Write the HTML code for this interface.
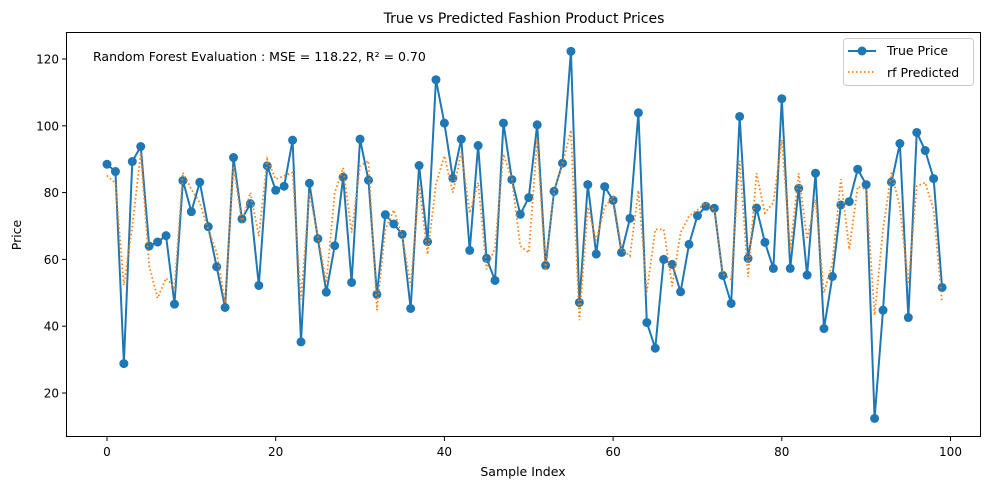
<!DOCTYPE html>
<html><head><meta charset="utf-8"><style>
body{margin:0;background:#fff;font-family:"Liberation Sans","DejaVu Sans",sans-serif;}
svg text{font-family:"DejaVu Sans","Liberation Sans",sans-serif;}
</style></head><body>
<svg id="chart" width="989" height="490" xmlns="http://www.w3.org/2000/svg">
<rect width="989" height="490" fill="#fff"/>
<text x="524" y="23" font-size="14" text-anchor="middle">True vs Predicted Fashion Product Prices</text>
<g id="grid"></g>
<g id="series"></g>
<rect x="66.5" y="32.5" width="914" height="404" fill="none" stroke="#000" stroke-width="1"/>
<text x="93" y="61" font-size="12.5">Random Forest Evaluation : MSE = 118.22, R² = 0.70</text>
<text x="523" y="476" font-size="12.5" text-anchor="middle">Sample Index</text>
<text transform="translate(21,235) rotate(-90)" font-size="12.5" text-anchor="middle">Price</text>
<g>
<rect x="843.5" y="38.5" width="130" height="47" rx="3" fill="#fff" stroke="#ccc"/>
<line x1="848" y1="51" x2="876" y2="51" stroke="#1f77b4" stroke-width="2"/>
<circle cx="862" cy="51" r="4.5" fill="#1f77b4"/>
<text x="887" y="55" font-size="12.5">True Price</text>
<line x1="848" y1="72" x2="876" y2="72" stroke="#ff7f0e" stroke-width="1.8" stroke-dasharray="1.5,2.5"/>
<text x="887" y="77" font-size="12.5">rf Predicted</text>
</g>
</svg>
<script>
const trueVals=[88.5,86.3,28.8,89.3,93.8,64,65.2,67.1,46.6,83.6,74.3,83.1,69.8,57.8,45.6,90.5,72.1,76.7,52.2,88,80.7,81.9,95.7,35.3,82.8,66.2,50.2,64.1,84.6,53.1,96,83.7,49.5,73.4,70.6,67.5,45.3,88.1,65.3,113.8,100.8,84.3,96,62.7,94.1,60.3,53.7,100.8,83.9,73.5,78.5,100.3,58.2,80.4,88.8,122.3,47.1,82.4,61.6,81.8,77.7,62.1,72.3,103.9,41.1,33.4,60,58.5,50.3,64.5,73.1,75.9,75.3,55.2,46.8,102.8,60.3,75.4,65.1,57.3,108.1,57.3,81.3,55.3,85.8,39.3,54.9,76.3,77.3,87,82.4,12.4,44.8,83.1,94.7,42.6,98,92.6,84.2,51.6];
const predVals=[85.1,82.8,52.3,70,91.9,58,48.4,54.4,51.5,86,81,77,69,62,47,88,71,80,67,90,84,85,86,48,80,67,53,80,87.4,68,88,89.5,44.8,69,74.8,66.9,52,82.6,61.5,82.6,91,80,92,73.9,83,57,63.5,91.5,84,64,62,95.8,56.6,80.5,88.6,98.7,41.8,75.7,65.7,75.7,78.7,63,61,80.6,50.2,69,69,52,68,73,74.8,77,74.8,55.6,54,89.5,54.8,85.8,73.9,77,95.8,63,85.8,66,78,50,59,84,63,81.8,81,43.3,69,86,75.7,52.6,82,83,74.8,47];
const xTicks=[0,20,40,60,80,100];
const yTicks=[20,40,60,80,100,120];
const NS="http://www.w3.org/2000/svg";
const xs=v=>107+v*8.435;
const ys=v=>393-(v-20)*3.34;
const grid=document.getElementById('grid'),ser=document.getElementById('series');
function mk(tag,attrs,parent){const e=document.createElementNS(NS,tag);for(const k in attrs)e.setAttribute(k,attrs[k]);parent.appendChild(e);return e;}
xTicks.forEach(t=>{
 const l=mk('line',{x1:xs(t),x2:xs(t),y1:437,y2:441,stroke:'#000'},grid);
 
 
 const tx=mk('text',{x:xs(t),y:456,'font-size':12,'text-anchor':'middle'},grid);
 tx.textContent=t;
 
 
});
yTicks.forEach(t=>{
 const l=mk('line',{x1:62,x2:66.5,y1:ys(t),y2:ys(t),stroke:'#000'},grid);
 
 
 const tx=mk('text',{x:59,y:ys(t)+4.5,'font-size':12,'text-anchor':'end'},grid);
 tx.textContent=t;
 
 
});
const tl=mk('polyline',{points:trueVals.map((v,i)=>xs(i)+','+ys(v)).join(' '),fill:'none',stroke:'#1f77b4','stroke-width':2},ser);


trueVals.forEach((v,i)=>{
 const c=mk('circle',{cx:xs(i),cy:ys(v),r:4.5,fill:'#1f77b4'},ser);
 
 
});
const pl=mk('polyline',{points:predVals.map((v,i)=>xs(i)+','+ys(v)).join(' '),fill:'none',stroke:'#ff7f0e','stroke-width':1.8,'stroke-dasharray':'1.5,2.5'},ser);


</script>
</body></html>
